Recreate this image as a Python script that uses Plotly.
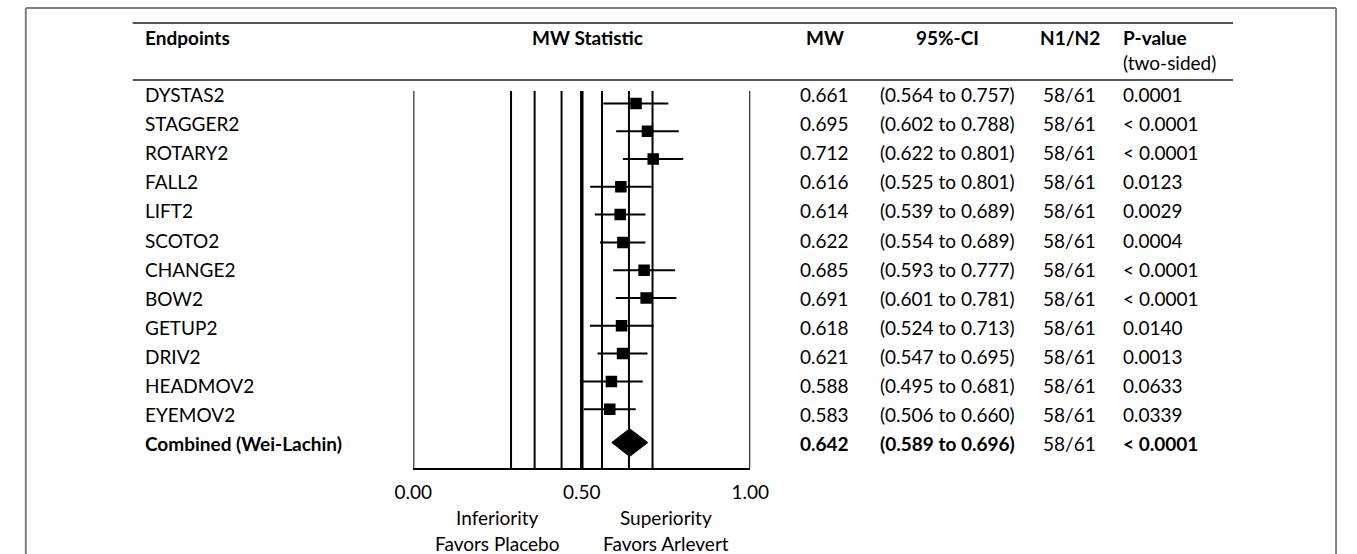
import plotly.graph_objects as go

# ---------------- data ----------------
endpoints = ["DYSTAS2", "STAGGER2", "ROTARY2", "FALL2", "LIFT2", "SCOTO2", "CHANGE2",
             "BOW2", "GETUP2", "DRIV2", "HEADMOV2", "EYEMOV2", "Combined (Wei-Lachin)"]
mw = [0.661, 0.695, 0.712, 0.616, 0.614, 0.622, 0.685, 0.691, 0.618, 0.621, 0.588, 0.583, 0.642]
ci_low = [0.564, 0.602, 0.622, 0.525, 0.539, 0.554, 0.593, 0.601, 0.524, 0.547, 0.495, 0.506, 0.589]
ci_high = [0.757, 0.788, 0.801, 0.707, 0.689, 0.689, 0.777, 0.781, 0.713, 0.695, 0.681, 0.660, 0.696]
mw_text = ["0.661", "0.695", "0.712", "0.616", "0.614", "0.622", "0.685", "0.691", "0.618",
           "0.621", "0.588", "0.583", "0.642"]
ci_text = ["(0.564 to 0.757)", "(0.602 to 0.788)", "(0.622 to 0.801)", "(0.525 to 0.801)",
           "(0.539 to 0.689)", "(0.554 to 0.689)", "(0.593 to 0.777)", "(0.601 to 0.781)",
           "(0.524 to 0.713)", "(0.547 to 0.695)", "(0.495 to 0.681)", "(0.506 to 0.660)",
           "(0.589 to 0.696)"]
n_text = ["58/61"] * 13
p_text = ["0.0001", "< 0.0001", "< 0.0001", "0.0123", "0.0029", "0.0004", "< 0.0001",
          "< 0.0001", "0.0140", "0.0013", "0.0633", "0.0339", "< 0.0001"]
benchmarks = [0.29, 0.36, 0.44, 0.50, 0.56, 0.64, 0.71]
tick_vals = [0.0, 0.5, 1.0]
tick_text = ["0.00", "0.50", "1.00"]
headers = ["Endpoints", "MW Statistic", "MW", "95%-CI", "N1/N2", "P-value"]

# ---------------- layout helpers ----------------
W, H = 1357, 554
FONT = "Lato"
FS = 19


def fx(p):
    return p / W


def fy(p):
    return 1 - p / H


n = len(endpoints)
fig = go.Figure()

# CI whiskers for individual endpoints
xs, ys = [], []
for i in range(n - 1):
    xs += [ci_low[i], ci_high[i], None]
    ys += [i, i, None]
fig.add_trace(go.Scatter(x=xs, y=ys, mode="lines", line=dict(color="black", width=2),
                         hoverinfo="skip", showlegend=False))
# point estimates
fig.add_trace(go.Scatter(x=mw[:-1], y=list(range(n - 1)), mode="markers",
                         marker=dict(symbol="square", size=11.5, color="black", line=dict(width=0)),
                         showlegend=False))
# combined diamond
c = n - 1
yc = c + 0.2
half = 0.5
fig.add_trace(go.Scatter(x=[ci_low[c], mw[c], ci_high[c], mw[c], ci_low[c]],
                         y=[yc, yc - half, yc, yc + half, yc], mode="lines", fill="toself",
                         fillcolor="black", line=dict(color="black", width=1), showlegend=False))
# dummy trace to instantiate table-row axis
fig.add_trace(go.Scatter(x=[None], y=[None], yaxis="y2", showlegend=False))

shapes = []
# benchmark verticals
for b in benchmarks:
    shapes.append(dict(type="line", xref="x", yref="y domain", x0=b, x1=b, y0=0, y1=1,
                       line=dict(color="black", width=3.5 if b == 0.5 else 2)))
for b in [0.0, 1.0]:
    shapes.append(dict(type="line", xref="x", yref="y domain", x0=b, x1=b, y0=0, y1=1,
                       line=dict(color="black", width=2)))
# table rules
for yy in [23, 80]:
    shapes.append(dict(type="line", xref="paper", yref="paper", x0=fx(117), x1=fx(1249),
                       y0=fy(yy), y1=fy(yy), line=dict(color="#555555", width=2)))
# outer frame
shapes.append(dict(type="line", xref="paper", yref="paper", x0=fx(7), x1=fx(7), y0=fy(8), y1=0,
                   line=dict(color="#808080", width=2)))
shapes.append(dict(type="line", xref="paper", yref="paper", x0=fx(7), x1=fx(1355), y0=fy(8), y1=fy(8),
                   line=dict(color="#808080", width=2)))
shapes.append(dict(type="line", xref="paper", yref="paper", x0=fx(1355), x1=fx(1355), y0=fy(8), y1=0,
                   line=dict(color="#808080", width=2)))

annotations = []


def ann(text, x, y, xanchor="center", bold=False, yref="paper", xref="paper"):
    annotations.append(dict(text=f"<b>{text}</b>" if bold else text, x=x, y=y, xref=xref, yref=yref,
                            xanchor=xanchor, yanchor="middle", showarrow=False,
                            font=dict(family=FONT, size=FS, color="black")))


# headers
hy = fy(37)
ann(headers[0], fx(128), hy, "left", True)
ann(headers[1], fx(585), hy, "center", True)
ann(headers[2], fx(829), hy, "center", True)
ann(headers[3], fx(955), hy, "center", True)
ann(headers[4], fx(1081), hy, "center", True)
ann(headers[5], fx(1134), hy, "left", True)
ann("(two-sided)", fx(1134), fy(62), "left", False)

# table rows
for i in range(n):
    bold = i == n - 1
    ann(endpoints[i], fx(128), i, "left", bold, yref="y2")
    ann(mw_text[i], fx(829), i, "center", bold, yref="y2")
    ann(ci_text[i], fx(955), i, "center", bold, yref="y2")
    ann(n_text[i], fx(1081), i, "center", False, yref="y2")
    ann(p_text[i], fx(1134), i, "left", bold, yref="y2")

# direction labels
ann("Inferiority", 0.25, fy(517), "center", xref="x")
ann("Favors Placebo", 0.25, fy(543), "center", xref="x")
ann("Superiority", 0.75, fy(517), "center", xref="x")
ann("Favors Arlevert", 0.75, fy(543), "center", xref="x")

fig.update_layout(
    width=W, height=H,
    margin=dict(l=0, r=0, t=0, b=0),
    paper_bgcolor="white", plot_bgcolor="white",
    font=dict(family=FONT, size=FS, color="black"),
    xaxis=dict(domain=[fx(405.7), fx(752.3)], range=[0, 1], showgrid=False, zeroline=False,
               showline=True, linecolor="black", linewidth=2, tickvals=tick_vals, ticktext=tick_text,
               ticks="", tickfont=dict(family=FONT, size=FS, color="black"), ticklabelstandoff=6,
               fixedrange=True),
    yaxis=dict(domain=[fy(468), fy(91)], range=[13.115, -0.446], visible=False, fixedrange=True),
    yaxis2=dict(overlaying="y", range=[12.841, -0.127], visible=False, fixedrange=True),
    shapes=shapes,
    annotations=annotations,
    showlegend=False,
)

fig.write_html("out.html", config={"displayModeBar": False},
               post_script="document.body.style.margin='0';")
